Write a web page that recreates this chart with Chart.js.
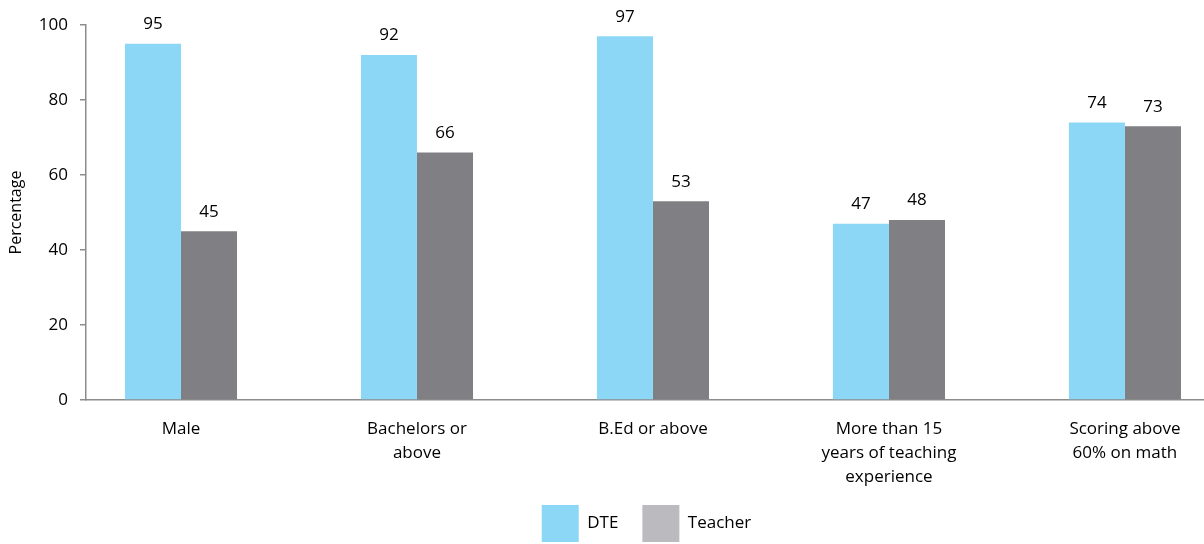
<!DOCTYPE html>
<html>
<head>
<meta charset="utf-8">
<script src="https://cdn.jsdelivr.net/npm/chart.js@4.4.0/dist/chart.umd.min.js"></script>
<style>
  html, body { margin: 0; padding: 0; background: #fff; }
  #wrap { width: 1204px; height: 544px; position: relative; }
</style>
</head>
<body>
<div id="wrap"><canvas id="chart"></canvas></div>
<script>
const categories = [
    'Male',
    ['Bachelors or', 'above'],
    'B.Ed or above',
    ['More than 15', 'years of teaching', 'experience'],
    ['Scoring above', '60% on math']
];
const dteValues = [95, 92, 97, 47, 74];
const teacherValues = [45, 66, 53, 48, 73];
const yTicks = [0, 20, 40, 60, 80, 100];

const FONT = '"Open Sans", sans-serif';

// value labels above bars + legend placement tweak
const valueLabels = {
    id: 'valueLabels',
    beforeDraw(chart) {
        // legend is centred on the plot area, not the whole canvas
        chart.legend.left = chart.chartArea.left + 3;
        chart.legend.top = chart.chartArea.bottom + 81;
    },
    afterDatasetsDraw(chart) {
        const ctx = chart.ctx;
        ctx.save();
        ctx.font = '17px ' + FONT;
        ctx.fillStyle = '#000';
        ctx.textAlign = 'center';
        ctx.textBaseline = 'bottom';
        chart.data.datasets.forEach((ds, di) => {
            chart.getDatasetMeta(di).data.forEach((bar, i) => {
                ctx.fillText(ds.data[i].y, bar.x, bar.y - 11);
            });
        });
        ctx.restore();
    }
};

const ctx = document.getElementById('chart').getContext('2d');
new Chart(ctx, {
    type: 'bar',
    data: {
        datasets: [{
            label: 'DTE',
            data: dteValues.map((v, i) => ({ x: i, y: v })),
            backgroundColor: '#8dd7f6',
            borderWidth: 0
        }, {
            label: 'Teacher',
            data: teacherValues.map((v, i) => ({ x: i, y: v })),
            backgroundColor: '#808084',
            borderWidth: 0
        }]
    },
    options: {
        responsive: true,
        maintainAspectRatio: false,
        animation: false,
        categoryPercentage: 0.475,
        barPercentage: 1,
        layout: { padding: { top: 25, right: 0, left: 0, bottom: 0 } },
        plugins: {
            legend: {
                position: 'bottom',
                maxHeight: 54,
                labels: {
                    boxWidth: 37,
                    boxHeight: 37,
                    padding: 24,
                    color: '#000',
                    font: { family: FONT, size: 17 },
                    generateLabels(chart) {
                        const fills = ['#8dd7f6', '#bbbbbf'];
                        return chart.data.datasets.map((ds, i) => ({
                            text: ds.label,
                            fillStyle: fills[i],
                            strokeStyle: fills[i],
                            lineWidth: 0,
                            fontColor: '#000',
                            datasetIndex: i
                        }));
                    }
                }
            },
            tooltip: { enabled: false }
        },
        scales: {
            x: {
                type: 'linear',
                offset: false,
                min: -0.4025,
                max: 4.335,
                grid: { display: false },
                border: { color: '#8c8c8c', width: 1.5 },
                afterBuildTicks(scale) {
                    scale.ticks = categories.map((c, i) => ({ value: i }));
                },
                afterFit(scale) { scale.height = 90; },
                ticks: {
                    color: '#000',
                    font: { family: FONT, size: 17, lineHeight: 1.41 },
                    padding: 9,
                    maxRotation: 0,
                    autoSkip: false,
                    callback: (v) => categories[v]
                }
            },
            y: {
                min: 0,
                max: 100,
                afterBuildTicks(scale) {
                    scale.ticks = yTicks.map(v => ({ value: v }));
                },
                afterFit(scale) { scale.width = 86; },
                grid: {
                    drawOnChartArea: false,
                    drawTicks: true,
                    tickLength: 6,
                    color: '#8c8c8c',
                    lineWidth: 1.5
                },
                border: { color: '#8c8c8c', width: 1.5 },
                ticks: {
                    color: '#000',
                    font: { family: FONT, size: 17 },
                    padding: 12
                },
                title: {
                    display: true,
                    text: 'Percentage',
                    color: '#000',
                    font: { family: FONT, size: 16 },
                    padding: { top: 7, bottom: 0 }
                }
            }
        }
    },
    plugins: [valueLabels]
});
</script>
</body>
</html>
